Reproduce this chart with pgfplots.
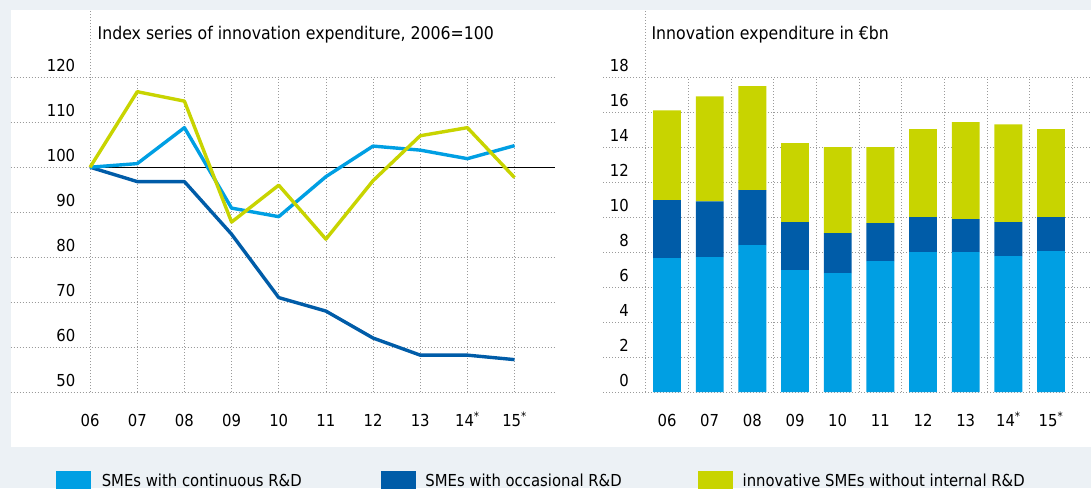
\documentclass[border=0pt]{standalone}
\usepackage{fontspec}
\setmainfont{DejaVu Sans Condensed}
\usepackage{pgfplots}
\pgfplotsset{compat=1.18}

\definecolor{cont}{HTML}{009FE3}
\definecolor{occ}{HTML}{005CA8}
\definecolor{noint}{HTML}{C8D400}
\definecolor{bg}{HTML}{ECF1F5}
\definecolor{gridc}{HTML}{9A9A9A}

\newcommand{\lbl}{\fontsize{16.5}{18}\selectfont}
\newcommand{\ttl}{\fontsize{17.5}{19}\selectfont}

\pgfplotsset{
  panel/.style={
    scale only axis, height=314.7pt,
    axis line style={draw=none},
    major tick length=0pt, minor tick length=0pt,
    tick label style={font=\lbl, inner sep=0pt},
    /pgf/number format/assume math mode=true,
    grid style={gridc, line width=0.6pt, dash pattern=on 0.7pt off 2.3pt},
    minor grid style={gridc, line width=0.6pt, dash pattern=on 0.7pt off 2.3pt},
    yticklabel style={anchor=base east, yshift=5.5pt},
    xticklabel style={anchor=base, yshift=-34.7pt},
    xtick={0,...,9},
    xticklabels={06,07,08,09,10,11,12,13,14\textsuperscript{*},15\textsuperscript{*}},
    clip=false,
  },
}

\begin{document}
\begin{tikzpicture}[x=1pt,y=1pt]
\clip (0,0) rectangle (1091,488);
\fill[bg] (0,0) rectangle (1091,488);
\fill[white] (10.5,41) rectangle (1091,478);

% left: index series
\begin{axis}[panel, at={(10.5pt,96pt)}, anchor=south west, width=544.5pt,
  xmin=-1.688, xmax=9.858, ymin=50, ymax=120,
  ytick={50,60,...,120},
  xmajorgrids, ymajorgrids,
  yticklabel style={xshift=64.9pt}]
\draw[gridc, line width=0.6pt, dash pattern=on 0.7pt off 2.3pt] (axis cs:0,120) -- (axis cs:0,134.96);
\addplot[black, line width=0.8pt, forget plot] coordinates {(0,100) (9.858,100)};
\addplot[occ, line width=3.4pt, line join=round] coordinates {
(0,100) (1,96.8) (2,96.8) (3,85.1) (4,71.0) (5,68.0) (6,62.0) (7,58.2) (8,58.2) (9,57.2)};
\addplot[cont, line width=3.4pt, line join=round] coordinates {
(0,100) (1,100.8) (2,108.8) (3,90.9) (4,89.0) (5,97.9) (6,104.7) (7,103.8) (8,101.9) (9,104.8)};
\addplot[noint, line width=3.4pt, line join=round] coordinates {
(0,100) (1,116.8) (2,114.7) (3,87.8) (4,96.0) (5,84.0) (6,97.0) (7,107.0) (8,108.8) (9,97.7)};
\end{axis}

% right: expenditure in EUR bn
\begin{axis}[panel, at={(603pt,96pt)}, anchor=south west, width=488pt,
  xmin=-1.5, xmax=9.937, ymin=0, ymax=18,
  ytick={0,2,...,18},
  minor xtick={-0.5,0.5,...,9.5},
  xminorgrids, ymajorgrids,
  yticklabel style={xshift=26pt},
  ybar stacked, bar width=27.8pt]
\draw[gridc, line width=0.6pt, dash pattern=on 0.7pt off 2.3pt] (axis cs:-0.5,18) -- (axis cs:-0.5,21.85);
\addplot[fill=cont, draw=none] coordinates {
(0,7.66) (1,7.71) (2,8.40) (3,6.97) (4,6.80) (5,7.49) (6,8.00) (7,8.00) (8,7.77) (9,8.06)};
\addplot[fill=occ, draw=none] coordinates {
(0,3.31) (1,3.20) (2,3.14) (3,2.74) (4,2.29) (5,2.17) (6,2.00) (7,1.89) (8,1.94) (9,1.94)};
\addplot[fill=noint, draw=none] coordinates {
(0,5.14) (1,6.00) (2,5.95) (3,4.52) (4,4.91) (5,4.34) (6,5.03) (7,5.54) (8,5.60) (9,5.03)};
\end{axis}

% titles
\node[anchor=base west, inner sep=0pt, font=\ttl] at (97.5,448.7) {Index series of innovation expenditure, 2006=100};
\node[anchor=base west, inner sep=0pt, font=\ttl] at (651.4,448.7) {Innovation expenditure in €bn};

% legend
\fill[cont] (55.7,-2) rectangle (91.2,17.3);
\node[anchor=base west, inner sep=0pt, font=\lbl] at (101.6,2) {SMEs with continuous R\&D};
\fill[occ] (381.3,-2) rectangle (416.1,17.3);
\node[anchor=base west, inner sep=0pt, font=\lbl] at (425.2,2) {SMEs with occasional R\&D};
\fill[noint] (698,-2) rectangle (732.8,17.3);
\node[anchor=base west, inner sep=0pt, font=\lbl] at (742.5,2) {innovative SMEs without internal R\&D};
\end{tikzpicture}
\end{document}
